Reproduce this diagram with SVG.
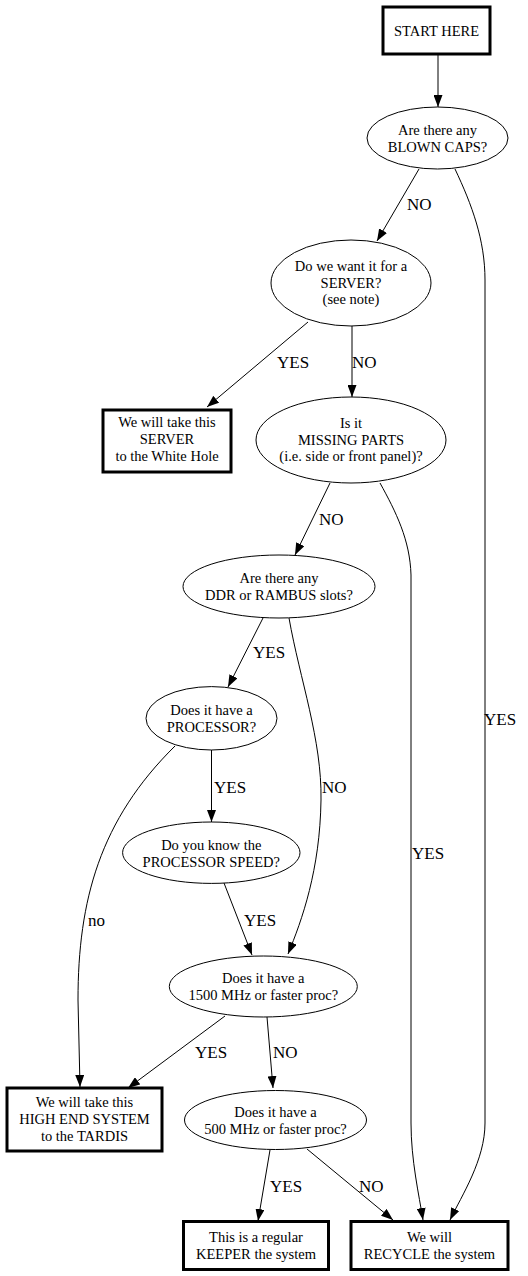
<svg xmlns="http://www.w3.org/2000/svg" width="528" height="1276" viewBox="0 0 528 1276">
<style>
.box{fill:#fff;stroke:#000;stroke-width:3}
.ell{fill:#fff;stroke:#000;stroke-width:1}
.nt{font-family:"Liberation Serif",serif;font-size:14.5px;fill:#000;text-anchor:middle}
.edge{fill:none;stroke:#000;stroke-width:1;marker-end:url(#ah)}
.lbl{font-family:"Liberation Serif",serif;font-size:17px;fill:#000}
</style>
<defs>
<marker id="ah" markerUnits="userSpaceOnUse" markerWidth="12" markerHeight="9" refX="12" refY="4.5" orient="auto">
<path d="M0,0 L12,4.5 L0,9 z" fill="#000"/>
</marker>
</defs>
<rect width="528" height="1276" fill="#fff"/>
<g id="connectors">
<path class="edge" d="M438,54 L438,107"/>
<path class="edge" d="M419,169 L377,241"/>
<text class="lbl" x="407" y="210">NO</text>
<path class="edge" d="M455,169 C472,205 485,240 485,280 L485,1123 C485,1160 462,1195 450,1220"/>
<text class="lbl" x="484" y="725">YES</text>
<path class="edge" d="M308,322 L207,407"/>
<text class="lbl" x="277" y="368">YES</text>
<path class="edge" d="M352,326 L352,397"/>
<text class="lbl" x="352" y="368">NO</text>
<path class="edge" d="M330,483 L295,555"/>
<text class="lbl" x="319" y="525">NO</text>
<path class="edge" d="M380,483 C396,512 410,540 411,575 L411,1123 C411,1160 419,1195 423,1220"/>
<text class="lbl" x="412" y="859">YES</text>
<path class="edge" d="M263,618 L228,687"/>
<text class="lbl" x="253" y="658">YES</text>
<path class="edge" d="M289,618 C300,680 322,740 321,800 C320,870 302,920 288,954"/>
<text class="lbl" x="322" y="793">NO</text>
<path class="edge" d="M211.5,750 L211.5,822"/>
<text class="lbl" x="214" y="793">YES</text>
<path class="edge" d="M175,746 C100,820 78,900 78,1000 L80,1087"/>
<text class="lbl" x="88" y="926">no</text>
<path class="edge" d="M224,883 L252,955"/>
<text class="lbl" x="244" y="926">YES</text>
<path class="edge" d="M225,1016 L128,1088"/>
<text class="lbl" x="195" y="1058">YES</text>
<path class="edge" d="M267,1017 L273,1088"/>
<text class="lbl" x="273" y="1058">NO</text>
<path class="edge" d="M270,1150 L258,1221"/>
<text class="lbl" x="270" y="1192">YES</text>
<path class="edge" d="M307,1149 L393,1220"/>
<text class="lbl" x="359" y="1192">NO</text>
</g>
<g id="start">
<rect class="box" x="383" y="7" width="107" height="47"/>
<text class="nt" x="436.5" y="36">START HERE</text>
</g>
<g id="blown">
<ellipse class="ell" cx="437.5" cy="138" rx="70.5" ry="31"/>
<text class="nt" x="437.5" y="135">Are there any</text>
<text class="nt" x="437.5" y="152">BLOWN CAPS?</text>
</g>
<g id="server">
<ellipse class="ell" cx="351" cy="283" rx="80" ry="43"/>
<text class="nt" x="351" y="271">Do we want it for a</text>
<text class="nt" x="351" y="288">SERVER?</text>
<text class="nt" x="351" y="304">(see note)</text>
</g>
<g id="whitehole">
<rect class="box" x="103" y="410" width="128" height="62"/>
<text class="nt" x="167" y="427">We will take this</text>
<text class="nt" x="167" y="444">SERVER</text>
<text class="nt" x="167" y="461">to the White Hole</text>
</g>
<g id="missing">
<ellipse class="ell" cx="351" cy="440" rx="95" ry="43"/>
<text class="nt" x="351" y="428">Is it</text>
<text class="nt" x="351" y="445">MISSING PARTS</text>
<text class="nt" x="351" y="461">(i.e. side or front panel)?</text>
</g>
<g id="ddr">
<ellipse class="ell" cx="279" cy="586.5" rx="96" ry="31.5"/>
<text class="nt" x="279" y="583">Are there any</text>
<text class="nt" x="279" y="600">DDR or RAMBUS slots?</text>
</g>
<g id="processor">
<ellipse class="ell" cx="211.5" cy="718.3" rx="65.5" ry="31.7"/>
<text class="nt" x="211.5" y="715">Does it have a</text>
<text class="nt" x="211.5" y="732">PROCESSOR?</text>
</g>
<g id="speed">
<ellipse class="ell" cx="211.3" cy="852.7" rx="88.7" ry="30.7"/>
<text class="nt" x="211.3" y="849.5">Do you know the</text>
<text class="nt" x="211.3" y="866.5">PROCESSOR SPEED?</text>
</g>
<g id="p1500">
<ellipse class="ell" cx="263.3" cy="986.5" rx="94" ry="30.5"/>
<text class="nt" x="263.3" y="983">Does it have a</text>
<text class="nt" x="263.3" y="1000">1500 MHz or faster proc?</text>
</g>
<g id="highend">
<rect class="box" x="7" y="1088" width="155" height="63"/>
<text class="nt" x="84.5" y="1107">We will take this</text>
<text class="nt" x="84.5" y="1124">HIGH END SYSTEM</text>
<text class="nt" x="84.5" y="1141">to the TARDIS</text>
</g>
<g id="p500">
<ellipse class="ell" cx="275.5" cy="1120" rx="91" ry="29.5"/>
<text class="nt" x="275.5" y="1116.5">Does it have a</text>
<text class="nt" x="275.5" y="1134">500 MHz or faster proc?</text>
</g>
<g id="keeper">
<rect class="box" x="183.5" y="1221.5" width="145" height="48"/>
<text class="nt" x="256" y="1241.5">This is a regular</text>
<text class="nt" x="256" y="1258.5">KEEPER the system</text>
</g>
<g id="recycle">
<rect class="box" x="351" y="1221.5" width="157" height="48"/>
<text class="nt" x="429.5" y="1241.5">We will</text>
<text class="nt" x="429.5" y="1258.5">RECYCLE the system</text>
</g>
</svg>
